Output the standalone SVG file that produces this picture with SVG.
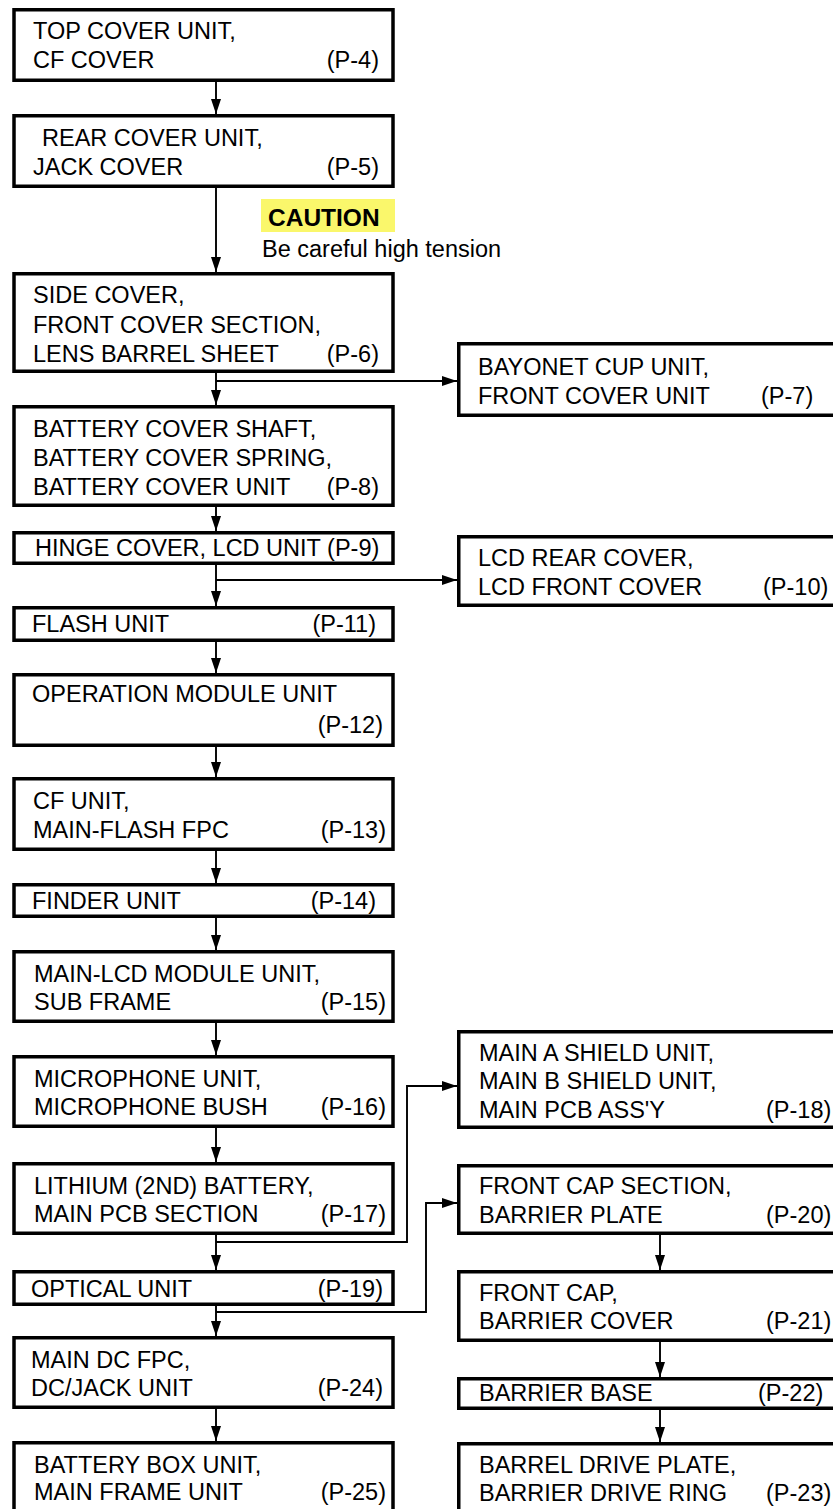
<svg xmlns="http://www.w3.org/2000/svg" width="833" height="1509" viewBox="0 0 833 1509">
<style>
.box{fill:#fff;stroke:#000;stroke-width:3.5}
.t{font-family:"Liberation Sans",Arial,Helvetica,sans-serif;font-size:23.5px;fill:#000}
.e{text-anchor:end}
.c{fill:none;stroke:#000;stroke-width:1.9}
.cb{font-family:"Liberation Sans",Arial,Helvetica,sans-serif;font-size:24.5px;font-weight:bold;fill:#000}
</style>
<defs>
<marker id="ah" markerUnits="userSpaceOnUse" markerWidth="16" markerHeight="11" refX="15" refY="5" orient="auto">
<path d="M0,0 L15,5 L0,10 z" fill="#000"/>
</marker>
</defs>
<rect width="833" height="1509" fill="#fff"/>
<g id="connectors">
<line class="c" x1="216" y1="82" x2="216" y2="114" marker-end="url(#ah)"/>
<line class="c" x1="216" y1="188" x2="216" y2="272" marker-end="url(#ah)"/>
<line class="c" x1="216" y1="373" x2="216" y2="405" marker-end="url(#ah)"/>
<polyline class="c" points="216,381 457,381" marker-end="url(#ah)"/>
<line class="c" x1="216" y1="507" x2="216" y2="531" marker-end="url(#ah)"/>
<line class="c" x1="216" y1="565" x2="216" y2="606" marker-end="url(#ah)"/>
<polyline class="c" points="216,580 457,580" marker-end="url(#ah)"/>
<line class="c" x1="216" y1="642" x2="216" y2="673" marker-end="url(#ah)"/>
<line class="c" x1="216" y1="747" x2="216" y2="777" marker-end="url(#ah)"/>
<line class="c" x1="216" y1="851" x2="216" y2="883" marker-end="url(#ah)"/>
<line class="c" x1="216" y1="918" x2="216" y2="950" marker-end="url(#ah)"/>
<line class="c" x1="216" y1="1023" x2="216" y2="1055" marker-end="url(#ah)"/>
<line class="c" x1="216" y1="1128" x2="216" y2="1162" marker-end="url(#ah)"/>
<line class="c" x1="216" y1="1235" x2="216" y2="1270" marker-end="url(#ah)"/>
<polyline class="c" points="216,1242 407,1242 407,1086 457,1086" marker-end="url(#ah)"/>
<line class="c" x1="216" y1="1306" x2="216" y2="1336" marker-end="url(#ah)"/>
<polyline class="c" points="216,1312 426,1312 426,1203 457,1203" marker-end="url(#ah)"/>
<line class="c" x1="216" y1="1409" x2="216" y2="1441" marker-end="url(#ah)"/>
<line class="c" x1="660" y1="1235" x2="660" y2="1270" marker-end="url(#ah)"/>
<line class="c" x1="660" y1="1342" x2="660" y2="1377" marker-end="url(#ah)"/>
<line class="c" x1="660" y1="1410" x2="660" y2="1442" marker-end="url(#ah)"/>
</g>
<g id="caution">
<rect x="261" y="199" width="134" height="33" fill="#faf76b"/>
<text class="cb" x="268" y="226">CAUTION</text>
<text class="t" x="262" y="257">Be careful high tension</text>
</g>
<g id="n1"><rect class="box" x="14" y="9.75" width="379" height="70.5"/>
<text class="t" x="33" y="39">TOP COVER UNIT,</text><text class="t" x="33" y="68">CF COVER</text><text class="t e" x="379" y="68">(P-4)</text></g>
<g id="n2"><rect class="box" x="14" y="115.75" width="379" height="70.5"/>
<text class="t" x="42" y="146">REAR COVER UNIT,</text><text class="t" x="33" y="175">JACK COVER</text><text class="t e" x="379" y="175">(P-5)</text></g>
<g id="n3"><rect class="box" x="14" y="273.75" width="379" height="97.5"/>
<text class="t" x="33" y="303">SIDE COVER,</text><text class="t" x="33" y="333">FRONT COVER SECTION,</text><text class="t" x="33" y="362">LENS BARREL SHEET</text><text class="t e" x="379" y="362">(P-6)</text></g>
<g id="n4"><rect class="box" x="14" y="406.75" width="379" height="98.5"/>
<text class="t" x="33" y="437">BATTERY COVER SHAFT,</text><text class="t" x="33" y="466">BATTERY COVER SPRING,</text><text class="t" x="33" y="495">BATTERY COVER UNIT</text><text class="t e" x="379" y="495">(P-8)</text></g>
<g id="n5"><rect class="box" x="458.75" y="343.75" width="400" height="71.5"/>
<text class="t" x="478" y="375">BAYONET CUP UNIT,</text><text class="t" x="478" y="404">FRONT COVER UNIT</text><text class="t" x="761" y="404">(P-7)</text></g>
<g id="n6"><rect class="box" x="14" y="532.75" width="379" height="30.5"/>
<text class="t" x="35" y="556">HINGE COVER, LCD UNIT (P-9)</text></g>
<g id="n7"><rect class="box" x="458.75" y="536.75" width="400" height="68.5"/>
<text class="t" x="478" y="566">LCD REAR COVER,</text><text class="t" x="478" y="595">LCD FRONT COVER</text><text class="t" x="763" y="595">(P-10)</text></g>
<g id="n8"><rect class="box" x="14" y="607.75" width="379" height="32.5"/>
<text class="t" x="32" y="632">FLASH UNIT</text><text class="t e" x="376" y="632">(P-11)</text></g>
<g id="n9"><rect class="box" x="14" y="674.75" width="379" height="70.5"/>
<text class="t" x="32" y="702">OPERATION MODULE UNIT</text><text class="t e" x="383" y="733">(P-12)</text></g>
<g id="n10"><rect class="box" x="14" y="778.75" width="379" height="70.5"/>
<text class="t" x="33" y="809">CF UNIT,</text><text class="t" x="33" y="838">MAIN-FLASH FPC</text><text class="t e" x="386" y="838">(P-13)</text></g>
<g id="n11"><rect class="box" x="14" y="884.75" width="379" height="31.5"/>
<text class="t" x="32" y="909">FINDER UNIT</text><text class="t e" x="376" y="909">(P-14)</text></g>
<g id="n12"><rect class="box" x="14" y="951.75" width="379" height="69.5"/>
<text class="t" x="34" y="982">MAIN-LCD MODULE UNIT,</text><text class="t" x="34" y="1010">SUB FRAME</text><text class="t e" x="386" y="1010">(P-15)</text></g>
<g id="n13"><rect class="box" x="14" y="1056.75" width="379" height="69.5"/>
<text class="t" x="34" y="1087">MICROPHONE UNIT,</text><text class="t" x="34" y="1115">MICROPHONE BUSH</text><text class="t e" x="386" y="1115">(P-16)</text></g>
<g id="n14"><rect class="box" x="14" y="1163.75" width="379" height="69.5"/>
<text class="t" x="34" y="1194">LITHIUM (2ND) BATTERY,</text><text class="t" x="34" y="1222">MAIN PCB SECTION</text><text class="t e" x="386" y="1222">(P-17)</text></g>
<g id="n15"><rect class="box" x="14" y="1271.75" width="379" height="32.5"/>
<text class="t" x="31" y="1297">OPTICAL UNIT</text><text class="t e" x="383" y="1297">(P-19)</text></g>
<g id="n16"><rect class="box" x="14" y="1337.75" width="379" height="69.5"/>
<text class="t" x="31" y="1368">MAIN DC FPC,</text><text class="t" x="31" y="1396">DC/JACK UNIT</text><text class="t e" x="383" y="1396">(P-24)</text></g>
<g id="n17"><rect class="box" x="14" y="1442.75" width="379" height="90"/>
<text class="t" x="34" y="1473">BATTERY BOX UNIT,</text><text class="t" x="34" y="1500">MAIN FRAME UNIT</text><text class="t e" x="386" y="1500">(P-25)</text></g>
<g id="n18"><rect class="box" x="458.75" y="1031.75" width="400" height="95.5"/>
<text class="t" x="479" y="1061">MAIN A SHIELD UNIT,</text><text class="t" x="479" y="1089">MAIN B SHIELD UNIT,</text><text class="t" x="479" y="1118">MAIN PCB ASS'Y</text><text class="t" x="766" y="1118">(P-18)</text></g>
<g id="n19"><rect class="box" x="458.75" y="1165.75" width="400" height="67.5"/>
<text class="t" x="479" y="1194">FRONT CAP SECTION,</text><text class="t" x="479" y="1223">BARRIER PLATE</text><text class="t" x="766" y="1223">(P-20)</text></g>
<g id="n20"><rect class="box" x="458.75" y="1271.75" width="400" height="68.5"/>
<text class="t" x="479" y="1301">FRONT CAP,</text><text class="t" x="479" y="1329">BARRIER COVER</text><text class="t" x="766" y="1329">(P-21)</text></g>
<g id="n21"><rect class="box" x="458.75" y="1378.75" width="400" height="29.5"/>
<text class="t" x="479" y="1401">BARRIER BASE</text><text class="t" x="758" y="1401">(P-22)</text></g>
<g id="n22"><rect class="box" x="458.75" y="1443.75" width="400" height="90"/>
<text class="t" x="479" y="1473">BARREL DRIVE PLATE,</text><text class="t" x="479" y="1501">BARRIER DRIVE RING</text><text class="t" x="766" y="1501">(P-23)</text></g>
</svg>
